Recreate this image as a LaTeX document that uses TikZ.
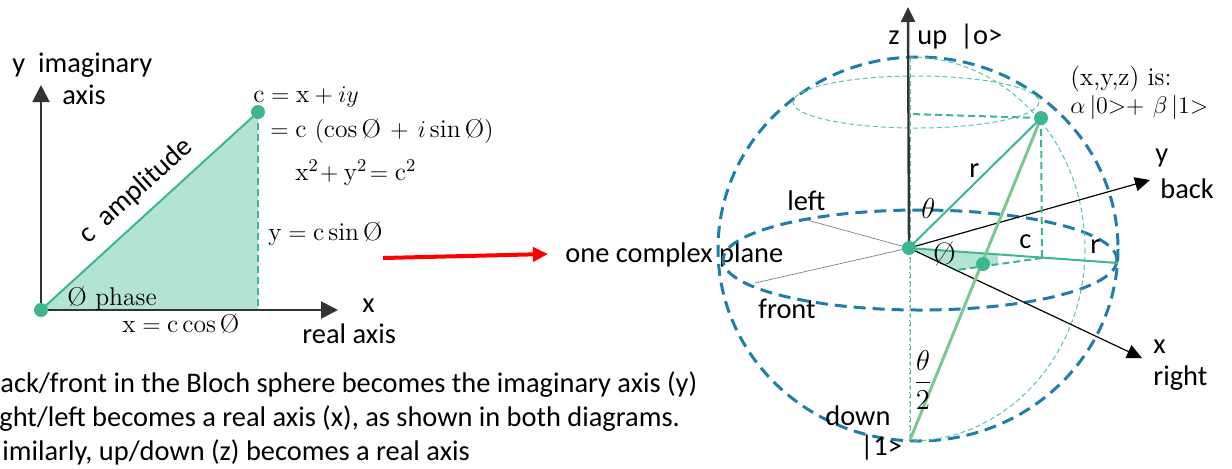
\documentclass[tikz,border=0pt]{standalone}
\usepackage{amsmath}
\usepackage{fontspec}
\usepackage{tikz}
\usetikzlibrary{arrows.meta}
\newfontfamily\labelfont{Carlito}
\definecolor{sphereblue}{HTML}{1F7EA6}
\definecolor{dotgreen}{HTML}{3DB58F}
\definecolor{fillgreen}{HTML}{B3E3D5}
\definecolor{longgreen}{HTML}{7CC890}
\definecolor{thingreen}{HTML}{5CC4A0}
\definecolor{axisgray}{HTML}{333333}
\newcommand{\phs}{\text{Ø}}

\tikzset{
  lbl/.style={font=\labelfont\fontsize{14.2}{17}\selectfont, inner sep=0, anchor=base west},
  eqn/.style={font=\fontsize{12.8}{15}\selectfont, inner sep=0, anchor=base west},
  greek/.style={font=\fontsize{15.5}{18}\selectfont, inner sep=0, anchor=base west},
  bigdash/.style={sphereblue, line width=1.5pt, dash pattern=on 6pt off 3.5pt},
  thindash/.style={thingreen, line width=0.5pt, dash pattern=on 2.5pt off 1.5pt},
  meddash/.style={dotgreen, line width=1pt, dash pattern=on 3.5pt off 2pt},
  bigtip/.style={-{Triangle[length=8.5pt,width=8.5pt]}},
  smalltip/.style={-{Triangle[length=7.5pt,width=7pt]}},
}

\begin{document}
\begin{tikzpicture}[x=0.5pt,y=-0.5pt]
    \useasboundingbox (0,0) rectangle (1232,468);
    % --- COMPLEX PLANE (LEFT) ---
    \coordinate (O) at (41,310);
    \coordinate (C) at (258,112);
    \coordinate (Cx) at (258,310);
    \coordinate (ytip) at (41,85);
    \coordinate (xtip) at (338,310);
    \fill[fillgreen] (O) -- (C) -- (Cx) -- cycle;
    \draw[axisgray, line width=1pt, bigtip] (O) -- (ytip);
    \draw[axisgray, line width=1pt, bigtip] (O) -- (xtip);
    \draw[dotgreen, line width=1pt] (O) -- (C);
    \draw[meddash] (C) -- (Cx);
    \fill[dotgreen] (O) circle (3.5pt);
    \fill[dotgreen] (C) circle (3.5pt);
    \node[lbl] (imag) at (12,72) {y\ \ imaginary};
    \node[lbl] (axis) at (62,104) {axis};
    \node[eqn] (eqa) at (253,102) {$\mathrm{c}=\mathrm{x}+iy$};
    \node[eqn] (eqb) at (270,137) {$=\mathrm{c}\ (\cos\phs\,+\,i\sin\phs)$};
    \node[eqn] (eqc) at (295,180) {$\mathrm{x}^2\!+\mathrm{y}^2\!=\mathrm{c}^2$};
    \node[eqn] (eqd) at (268,240) {$\mathrm{y}=\mathrm{c}\sin\phs$};
    \node[lbl, anchor=center, rotate=42] (amp) at (136,191) {c\ \ amplitude};
    \node[eqn] (phase) at (67,305) {Ø phase};
    \node[eqn] (eqe) at (122,332) {$\mathrm{x}=\mathrm{c}\cos\phs$};
    \node[lbl] (xlbl) at (362,312) {x};
    \node[lbl] (real) at (302,343) {real axis};

    % --- ARROW ---
    \coordinate (ra) at (383,258);
    \coordinate (rb) at (548,254);
    \draw[red, line width=2pt, -{Triangle[length=7.5pt,width=7pt]}] (ra) -- (rb);
    \node[lbl] (plane) at (565,262) {one complex plane};

    % --- BOTTOM TEXT ---
    \node[lbl] (tA) at (0,392) {ack/front in the Bloch sphere becomes the imaginary axis (y)};
    \node[lbl] (tB) at (-1,426) {ght/left becomes a real axis (x), as shown in both diagrams.};
    \node[lbl] (tC) at (2,460) {imilarly, up/down (z) becomes a real axis};

    % --- BLOCH SPHERE (RIGHT) ---
    \coordinate (S) at (909,248);
    \coordinate (P) at (1041,118);
    \coordinate (Q) at (983,264);
    \coordinate (Pd) at (1042,258);
    \coordinate (Pz) at (910,114);
    \coordinate (R) at (1118,263);
    \coordinate (Qe) at (957,270);
    \coordinate (top) at (910,57);
    \coordinate (bot) at (910,440);
    \coordinate (ztip) at (908,7);
    \coordinate (xs) at (1142,358);
    \coordinate (ys) at (1150,180);
    \coordinate (lf) at (807,220);
    \coordinate (fr) at (755,283);
    \draw[bigdash] (918,249) ellipse [x radius=200, y radius=192];
    \draw[bigdash] (920,260) ellipse [x radius=197, y radius=50];
    \draw[thindash] (916,102) ellipse [x radius=123, y radius=26];
    \begin{scope}
      \clip (910,0) rectangle (1232,468);
      \draw[thindash] (910,249) ellipse [x radius=175, y radius=192];
    \end{scope}
    \draw[thindash] (top) -- (bot);
    \draw[gray, line width=0.4pt, dotted] (S) -- (909,443);
    \fill[fillgreen] (S) -- (998,254.4) -- (998,264.2) -- (Qe) -- cycle;
    \draw[gray, line width=0.35pt] (lf) -- (S) -- (fr);
    \draw[axisgray, line width=1.2pt, smalltip] (S) -- (ztip);
    \draw[black, line width=0.6pt, smalltip] (S) -- (ys);
    \draw[black, line width=0.6pt, smalltip] (S) -- (xs);
    \draw[meddash] (P) -- (Pz);
    \draw[meddash] (P) -- (Pd);
    \draw[meddash] (Pd) -- (Qe);
    \draw[dotgreen, line width=1pt] (S) -- (R);
    \draw[dotgreen, line width=1pt] (S) -- (P);
    \draw[longgreen, line width=1.5pt] (P) -- (bot);
    \fill[dotgreen] (S) circle (3.5pt);
    \fill[dotgreen] (P) circle (3.5pt);
    \fill[dotgreen] (Q) circle (3.5pt);
    \node[lbl] (zl) at (888,44) {z};
    \node[lbl] (up) at (917,44) {up\ \ |o>};
    \node[eqn] (xyz) at (1070,85) {(x,y,z) is:};
    \node[eqn] (state) at (1070,113) {$\alpha\,|0\mathord{>}\mathord{+}\ \beta\,|1\mathord{>}$};
    \node[lbl] (yl) at (1155,162) {y};
    \node[lbl] (back) at (1160,198) {back};
    \node[lbl] (left) at (787,210) {left};
    \node[lbl] (front) at (758,318) {front};
    \node[lbl] (rup) at (969,177) {r};
    \node[lbl] (rdn) at (1090,253) {r};
    \node[lbl] (cl) at (1019,248) {c};
    \node[lbl] (xr) at (1153,353) {x};
    \node[lbl] (right) at (1153,385) {right};
    \node[lbl] (down) at (825,425) {down};
    \node[lbl] (one) at (860,455) {|1>};
    \node[greek] (th) at (921,218) {$\theta$};
    \node[greek, anchor=center] (th2) at (923,380) {$\dfrac{\theta}{2}$};
    \node[greek] (phs) at (933,264) {Ø};
\end{tikzpicture}
\end{document}
